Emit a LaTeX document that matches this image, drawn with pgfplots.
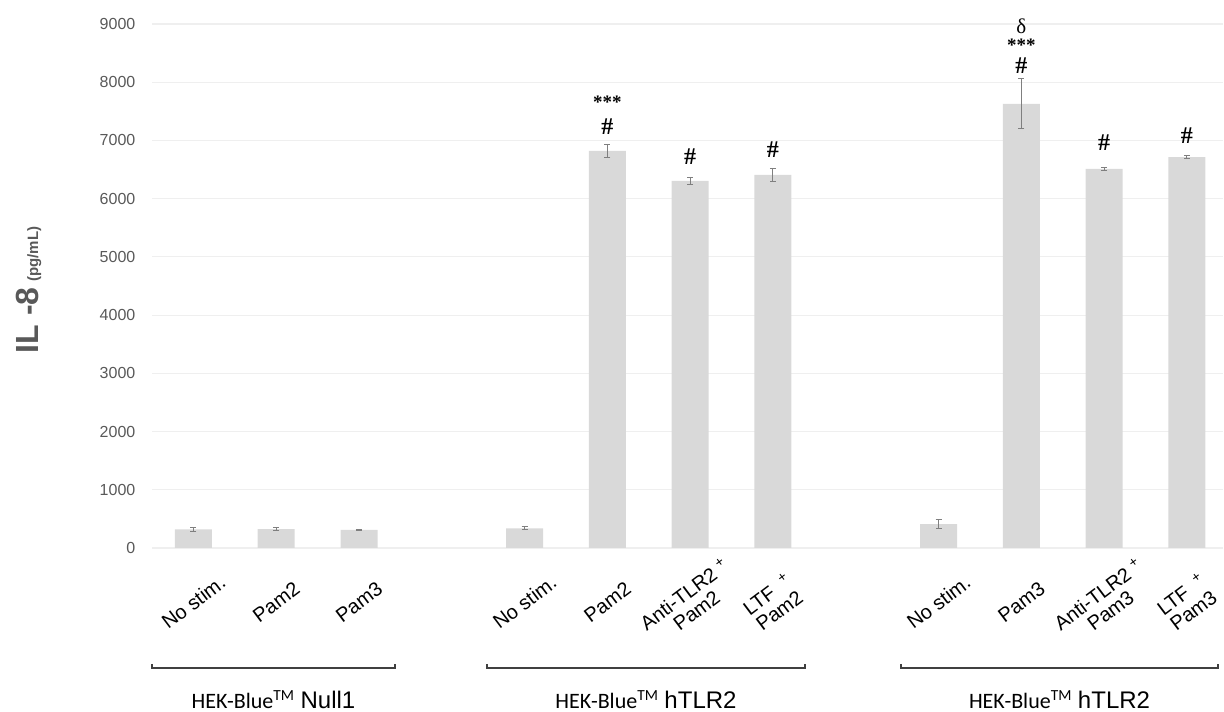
\documentclass[border=0pt]{standalone}
\usepackage{fontspec}
\setmainfont{Liberation Sans}
\newfontfamily\calibri{Carlito}
\newfontfamily\timesf{Liberation Serif}
\usepackage{pgfplots}
\usepackage{pgfplotstable}
\pgfplotsset{compat=1.18}

\definecolor{barfill}{HTML}{D9D9D9}
\definecolor{gridc}{HTML}{EFEFEF}
\definecolor{ticktext}{HTML}{595959}
\definecolor{errc}{HTML}{7F7F7F}
\definecolor{bracketc}{HTML}{404040}

% IL-8 release (pg/mL), mean and error; positions 3 and 8 are spacers between cell lines
\pgfplotstableread{
x  y     err
0  320   40
1  326   25
2  310   12
4  338   25
5  6820  110
6  6306  60
7  6409  115
9  412   77
10 7629  432
11 6512  20
12 6713  20
}\ildata

\newcommand{\hashmark}{{\timesf\fontsize{12}{13}\selectfont\bfseries\#}}
\newcommand{\stars}{{\timesf\fontsize{9.5}{10}\selectfont\bfseries ***}}
\newcommand{\deltamark}{{\timesf\fontsize{10.5}{11}\selectfont δ}}

\begin{document}
\begin{tikzpicture}[x=1pt,y=1pt]
\useasboundingbox (0,0) rectangle (612,355.5);
\begin{axis}[
  at={(76pt,81.5pt)}, anchor=south west,
  scale only axis, width=535.7pt, height=262pt,
  xmin=-0.5, xmax=12.44, ymin=0, ymax=9000,
  clip=false,
  axis line style={draw=none},
  major tick length=0pt,
  ytick={0,1000,...,9000},
  ymajorgrids, grid style={gridc, line width=0.6pt},
  /pgf/number format/assume math mode=true,
  /pgf/number format/1000 sep={},
  yticklabel style={font=\fontsize{8}{9.6}\selectfont, text=ticktext, xshift=-4.8pt},
  xtick={0,1,2,4,5,6,7,9,10,11,12},
  xticklabels={{No stim.},{Pam2},{Pam3},{No stim.},{Pam2},
    {Anti-TLR2 \textsuperscript{+}\\Pam2},{LTF\ \ \textsuperscript{+}\\Pam2},
    {No stim.},{Pam3},
    {Anti-TLR2 \textsuperscript{+}\\Pam3},{LTF\ \ \textsuperscript{+}\\Pam3}},
  xticklabel style={font=\fontsize{10}{10}\selectfont, align=center,
    anchor=center, yshift=-27pt, rotate=37},
]
\addplot[ybar, bar width=18.5pt, fill=barfill, draw=none,
  error bars/.cd, y dir=both, y explicit,
  error bar style={draw=errc, line width=0.5pt},
  error mark options={rotate=90, mark size=1.5pt, draw=errc, line width=0.5pt}]
  table[x=x, y=y, y error=err] {\ildata};

% significance marks
\node at (axis cs:5,7234) {\hashmark};
\node at (axis cs:5,7660) {\stars};
\node at (axis cs:6,6718) {\hashmark};
\node at (axis cs:7,6838) {\hashmark};
\node at (axis cs:10,8282) {\hashmark};
\node at (axis cs:10,8640) {\stars};
\node at (axis cs:10,8969) {\deltamark};
\node at (axis cs:11,6959) {\hashmark};
\node at (axis cs:12,7079) {\hashmark};
\end{axis}

% y-axis title
\node[rotate=90, anchor=base, text=ticktext] at (19,210.5)
  {{\fontsize{16}{18}\selectfont\bfseries IL -8} {\fontsize{7.5}{9}\selectfont\bfseries (pg/mL)}};

% cell-line brackets
\draw[bracketc, line width=0.6pt] (76,23.5) -- (76,21.5) -- (197.5,21.5) -- (197.5,23.5);
\draw[bracketc, line width=0.6pt] (243.5,23.5) -- (243.5,21.5) -- (402.5,21.5) -- (402.5,23.5);
\draw[bracketc, line width=0.6pt] (450.5,23.5) -- (450.5,21.5) -- (609,21.5) -- (609,23.5);

\node[anchor=base] at (136.75,1.5) {{\calibri\fontsize{11}{13}\selectfont HEK-Blue\textsuperscript{TM}} {\fontsize{12}{14}\selectfont Null1}};
\node[anchor=base] at (323,1.5) {{\calibri\fontsize{11}{13}\selectfont HEK-Blue\textsuperscript{TM}} {\fontsize{12}{14}\selectfont hTLR2}};
\node[anchor=base] at (529.75,1.5) {{\calibri\fontsize{11}{13}\selectfont HEK-Blue\textsuperscript{TM}} {\fontsize{12}{14}\selectfont hTLR2}};
\end{tikzpicture}
\end{document}
